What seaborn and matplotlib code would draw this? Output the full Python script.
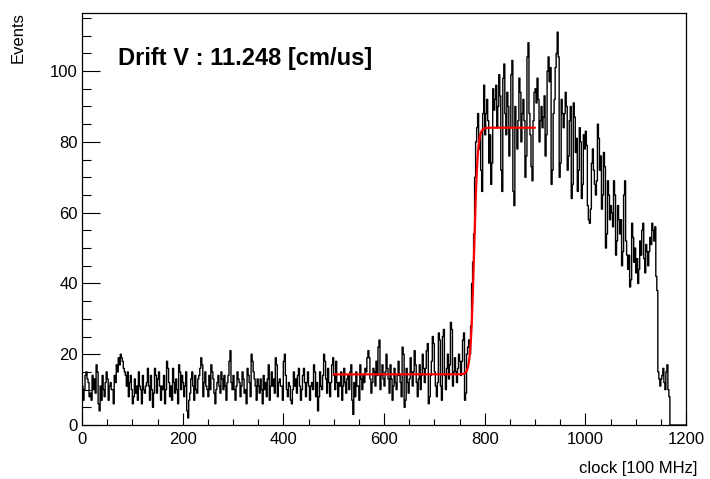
import numpy as np
import pandas as pd
import matplotlib
matplotlib.use("Agg")
import matplotlib.pyplot as plt
from matplotlib.ticker import MultipleLocator
import seaborn as sns

# Drift-time spectrum: 2-clock bins, one list of 50 bins per 100 clocks
bin_width = 2
counts_0000 = [11, 7, 10, 14, 15, 13, 12, 8, 9, 7, 14, 10, 13, 9, 17, 15, 6, 4, 11, 7,
               14, 10, 8, 12, 15, 13, 7, 11, 12, 10, 10, 6, 14, 12, 17, 15, 19, 17, 20, 19,
               18, 16, 15, 14, 11, 15, 8, 12, 14, 10]
counts_0100 = [6, 8, 13, 9, 11, 7, 15, 11, 10, 6, 14, 10, 9, 11, 12, 16, 11, 7, 14, 10,
               5, 9, 16, 14, 9, 13, 15, 11, 7, 11, 10, 14, 6, 10, 18, 16, 12, 8, 11, 7,
               16, 12, 9, 13, 10, 6, 17, 15, 10, 14]
counts_0200 = [12, 8, 11, 15, 4, 2, 7, 9, 13, 15, 11, 7, 14, 10, 9, 13, 14, 16, 19, 17,
               8, 12, 15, 11, 10, 8, 14, 10, 17, 15, 13, 9, 6, 10, 12, 14, 11, 9, 15, 13,
               10, 14, 11, 7, 12, 14, 18, 21, 12, 10]
counts_0300 = [14, 10, 7, 11, 15, 13, 12, 8, 11, 15, 13, 9, 10, 6, 16, 14, 12, 8, 20, 18,
               15, 13, 11, 7, 13, 11, 9, 13, 10, 6, 14, 10, 12, 8, 13, 17, 7, 11, 15, 11,
               13, 9, 19, 17, 8, 12, 13, 11, 11, 7]
counts_0400 = [18, 20, 14, 10, 8, 12, 11, 7, 6, 10, 15, 11, 13, 9, 14, 16, 11, 7, 10, 14,
               16, 12, 8, 12, 15, 11, 7, 11, 12, 10, 17, 15, 8, 12, 4, 8, 15, 11, 10, 14,
               20, 18, 13, 9, 16, 12, 8, 12, 17, 19]
counts_0500 = [14, 10, 18, 12, 8, 12, 11, 15, 7, 11, 16, 12, 9, 13, 14, 10, 15, 17, 7, 3,
               12, 8, 15, 11, 11, 7, 17, 13, 10, 14, 12, 16, 15, 19, 21, 19, 13, 9, 12, 16,
               15, 11, 18, 14, 22, 24, 10, 14, 17, 13]
counts_0600 = [11, 15, 20, 16, 13, 9, 17, 13, 7, 11, 16, 12, 10, 14, 18, 14, 12, 8, 22, 20,
               5, 7, 16, 12, 9, 13, 19, 15, 11, 15, 21, 17, 12, 8, 13, 17, 10, 14, 20, 16,
               12, 16, 21, 23, 6, 8, 14, 18, 25, 23]
counts_0700 = [15, 11, 8, 12, 26, 24, 11, 7, 25, 27, 14, 10, 16, 20, 13, 17, 29, 27, 11, 15,
               19, 15, 12, 16, 20, 18, 14, 18, 24, 26, 7, 9, 20, 22, 24, 20, 28, 40, 46, 54,
               70, 80, 84, 88, 78, 82, 72, 66, 88, 96]
counts_0800 = [82, 88, 92, 86, 74, 82, 68, 74, 95, 89, 92, 96, 84, 90, 99, 93, 72, 66, 98, 102,
               88, 82, 94, 90, 76, 84, 99, 103, 66, 62, 90, 84, 78, 86, 98, 94, 80, 88, 92, 86,
               70, 76, 104, 108, 88, 82, 73, 69, 86, 94]
counts_0900 = [95, 91, 98, 92, 80, 86, 90, 84, 87, 93, 76, 82, 100, 104, 97, 101, 68, 72, 88, 92,
               101, 105, 111, 104, 70, 74, 92, 88, 84, 88, 94, 90, 72, 76, 86, 90, 64, 68, 91, 87,
               77, 81, 66, 72, 84, 80, 64, 68, 82, 78]
counts_1000 = [83, 79, 62, 58, 57, 61, 74, 78, 72, 68, 65, 69, 85, 81, 72, 76, 61, 65, 77, 73,
               50, 54, 69, 65, 58, 62, 60, 56, 69, 65, 48, 52, 62, 58, 54, 58, 45, 49, 65, 69,
               52, 48, 44, 48, 39, 41, 57, 53, 46, 50]
counts_1100 = [43, 47, 40, 44, 52, 48, 55, 57, 47, 43, 51, 49, 45, 49, 53, 51, 57, 55, 52, 56,
               42, 38, 15, 13, 11, 13, 14, 16, 12, 10, 15, 17, 10, 8, 0, 0, 0, 0, 0, 0,
               0, 0, 0, 0, 0, 0, 0, 0, 0, 0]
blocks = [counts_0000, counts_0100, counts_0200, counts_0300, counts_0400, counts_0500,
          counts_0600, counts_0700, counts_0800, counts_0900, counts_1000, counts_1100]

# Fermi-function fit of the drift edge
fit_range = [500, 900]
fit_base = 14.3
fit_plateau = 84.0
fit_edge = 779.0
fit_width = 3.5
drift_velocity = 11.248

rows = []
for k, block in enumerate(blocks):
    for i, c in enumerate(block):
        rows.append((100 * k + bin_width * i + bin_width / 2, float(c)))
hist_df = pd.DataFrame(rows, columns=["clock", "events"])
x_max = 100 * len(blocks)

fit_x = np.linspace(fit_range[0], fit_range[1], 801)
fit_y = fit_base + (fit_plateau - fit_base) / (1 + np.exp(-(fit_x - fit_edge) / fit_width))
fit_df = pd.DataFrame({"clock": fit_x, "events": fit_y})

sns.set_style("ticks")
plt.rcParams["font.family"] = ["Liberation Sans", "DejaVu Sans"]
plt.rcParams["text.color"] = "black"
plt.rcParams["xtick.color"] = "black"
plt.rcParams["ytick.color"] = "black"
plt.rcParams["xtick.labelcolor"] = "black"
plt.rcParams["ytick.labelcolor"] = "black"

fig = plt.figure(figsize=(7.10, 4.79), dpi=100)
ax = fig.add_axes([82 / 710, 1 - 425 / 479, (686 - 82) / 710, (425 - 12.7) / 479])

sns.histplot(data=hist_df, x="clock", weights="events", binwidth=bin_width,
             binrange=(0, x_max), element="step",
             fill=False, color="black", linewidth=1.0, ax=ax)
sns.lineplot(data=fit_df, x="clock", y="events", color="red", linewidth=1.6, ax=ax)

ax.set_xlim(0, 1200)
ax.set_ylim(0, 116.5)
ax.set_xlabel("")
ax.set_ylabel("")

ax.xaxis.set_major_locator(MultipleLocator(200))
ax.xaxis.set_minor_locator(MultipleLocator(50))
ax.yaxis.set_major_locator(MultipleLocator(20))
ax.yaxis.set_minor_locator(MultipleLocator(5))
ax.tick_params(axis="both", which="both", direction="in", top=False, right=False,
               labelsize=12, color="black", labelcolor="black", width=0.8)
ax.tick_params(axis="x", which="major", length=8.5, pad=5)
ax.tick_params(axis="x", which="minor", length=4.3)
ax.tick_params(axis="y", which="major", length=13, pad=3)
ax.tick_params(axis="y", which="minor", length=6.5)
for side in ["left", "right", "top", "bottom"]:
    ax.spines[side].set_visible(True)
    ax.spines[side].set_color("black")
    ax.spines[side].set_linewidth(0.9)

fig.text(18 / 710, 1 - 12.5 / 479, "Events", rotation=90, ha="center", va="top",
         fontsize=12, color="black")
fig.text(697 / 710, 1 - 469 / 479, "clock [100 MHz]", ha="right", va="center",
         fontsize=12, color="black")
fig.text(118 / 710, 1 - 65 / 479, f"Drift V : {drift_velocity:.3f} [cm/us]",
         ha="left", va="baseline", fontsize=17, fontweight="bold", color="black")

fig.savefig("out.png", dpi=100)
